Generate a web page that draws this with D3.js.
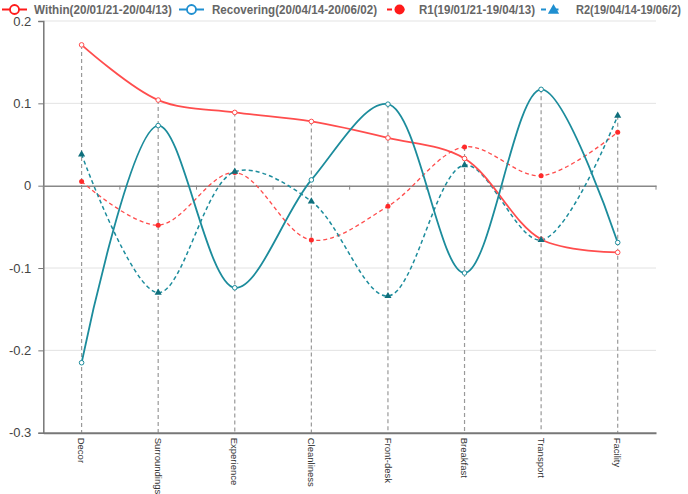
<!DOCTYPE html>
<html><head><meta charset="utf-8">
<script src="https://cdn.jsdelivr.net/npm/d3@7/dist/d3.min.js"></script>
<style>body{margin:0;background:#fff}svg{display:block;font-family:"Liberation Sans",Arial,sans-serif}</style>
</head><body><svg id="c" width="688" height="494"></svg>
<script>
const categories = ["Decor","Surroundings","Experience","Cleanliness","Front-desk","Breakfast","Transport","Facility"];
const within = [0.171, 0.104, 0.089, 0.078, 0.058, 0.033, -0.065, -0.081];
const recovering = [-0.215, 0.073, -0.124, 0.007, 0.099, -0.106, 0.117, -0.069];
const r1 = [0.005, -0.048, 0.016, -0.066, -0.025, 0.047, 0.012, 0.065];
const r2 = [0.038, -0.130, 0.017, -0.019, -0.134, 0.025, -0.066, 0.085];
const seriesNames = ["Within(20/01/21-20/04/13)","Recovering(20/04/14-20/06/02)","R1(19/01/21-19/04/13)","R2(19/04/14-19/06/2)"];
const yTicks = [0.2, 0.1, 0, -0.1, -0.2, -0.3];

const RED = "#ff4d4d", TEAL = "#1c8c9c", LRED = "#ff1a1a", LBLUE = "#1f8fd0";
const svg = d3.select("#c");
const x = d3.scaleBand().domain(categories).range([43.3, 656]);
const y = d3.scaleLinear().domain([-0.3, 0.2]).range([432.7, 21]);
const cx = d => x(d) + x.bandwidth()/2;

// gridlines
svg.append("g").selectAll("line").data(yTicks.filter(t => t !== 0 && t !== -0.3)).join("line")
  .attr("x1", 43.3).attr("x2", 656).attr("y1", d => y(d)).attr("y2", d => y(d))
  .attr("stroke", "#e3e3e3").attr("stroke-width", 1);

// y axis
const yAxis = svg.append("g").attr("transform", "translate(43.3,0)")
  .call(d3.axisLeft(y).tickValues(yTicks).tickSize(5).tickFormat(d => d === 0 ? "0" : d.toFixed(1)));
yAxis.select(".domain").attr("stroke", "#777").attr("stroke-width", 1.5);
yAxis.selectAll(".tick line").attr("stroke", "#777");
yAxis.selectAll("text").attr("font-size", 13).attr("fill", "#444").attr("x", -12).style("font-family", "Liberation Sans, Arial");

// drop lines
const all = [within, recovering, r1, r2];
svg.append("g").selectAll("line").data(categories).join("line")
  .attr("x1", d => cx(d)).attr("x2", d => cx(d))
  .attr("y1", (d,i) => y(d3.max(all, s => s[i]))).attr("y2", y(-0.3))
  .attr("stroke", "#999").attr("stroke-width", 1.2).attr("stroke-dasharray", "4,3");

// zero axis
const zAxis = svg.append("g").attr("transform", `translate(0,${y(0)})`)
  .call(d3.axisBottom(x).tickValues([]).tickSizeOuter(0));
zAxis.select(".domain").attr("stroke", "#888").attr("stroke-width", 1.5);
svg.append("g").selectAll("line").data(d3.range(categories.length + 1)).join("line")
  .attr("x1", i => 43.3 + i * x.step()).attr("x2", i => 43.3 + i * x.step())
  .attr("y1", y(0)).attr("y2", y(0) + 4).attr("stroke", "#888");

// bottom axis
const bAxis = svg.append("g").attr("transform", `translate(0,${y(-0.3)})`)
  .call(d3.axisBottom(x).tickSize(0).tickSizeOuter(0));
bAxis.select(".domain").attr("stroke", "#777").attr("stroke-width", 2);
bAxis.selectAll(".tick text").attr("font-size", 9.5).attr("fill", "#333")
  .attr("transform", "rotate(90)").attr("text-anchor", "start").attr("dy", "0.35em")
  .attr("x", 5).attr("y", 0).style("font-family", "Liberation Sans, Arial");

const line = d3.line().x((d,i) => cx(categories[i])).y(d => y(d)).curve(d3.curveCatmullRom.alpha(0.5));

function drawLine(vals, color, dash, width) {
  svg.append("path").datum(vals).attr("d", line).attr("fill", "none")
    .attr("stroke", color).attr("stroke-width", width).attr("stroke-dasharray", dash);
}
drawLine(r1, RED, "4,3", 1.3);
drawLine(r2, TEAL, "4,3", 1.5);
drawLine(within, RED, null, 1.8);
drawLine(recovering, TEAL, null, 1.8);

// markers
svg.append("g").selectAll("circle").data(within).join("circle")
  .attr("cx", (d,i) => cx(categories[i])).attr("cy", d => y(d)).attr("r", 2.3)
  .attr("fill", "#fff").attr("stroke", RED).attr("stroke-width", 1);
svg.append("g").selectAll("circle").data(recovering).join("circle")
  .attr("cx", (d,i) => cx(categories[i])).attr("cy", d => y(d)).attr("r", 2.3)
  .attr("fill", "#fff").attr("stroke", TEAL).attr("stroke-width", 1);
svg.append("g").selectAll("circle").data(r1).join("circle")
  .attr("cx", (d,i) => cx(categories[i])).attr("cy", d => y(d)).attr("r", 2.5)
  .attr("fill", "#ff2a2a");
const tri = d3.symbol().type(d3.symbolTriangle).size(22);
svg.append("g").selectAll("path").data(r2).join("path")
  .attr("d", tri).attr("transform", (d,i) => `translate(${cx(categories[i])},${y(d)})`)
  .attr("fill", "#0f6f7c");

// legend
const legend = [
  {x: 2, color: LRED, dash: null, marker: "open", tx: 34, tw: 138},
  {x: 179, color: LBLUE, dash: null, marker: "open", tx: 212, tw: 165},
  {x: 387, color: LRED, dash: "5,5", marker: "dot", tx: 419, tw: 116},
  {x: 541, color: LBLUE, dash: "5,5", marker: "tri", tx: 576, tw: 105}
];
const lg = svg.append("g");
legend.forEach((l, i) => {
  const ly = 9.5;
  const w = 25;
  lg.append("line").attr("x1", l.x).attr("x2", l.x + w).attr("y1", ly).attr("y2", ly)
    .attr("stroke", l.color).attr("stroke-width", 2).attr("stroke-dasharray", l.dash ? "5,7.5" : null);
  const mx = l.x + w/2;
  if (l.marker === "open") lg.append("circle").attr("cx", mx).attr("cy", ly).attr("r", 4.5)
    .attr("fill", "#fff").attr("stroke", l.color).attr("stroke-width", 1.8);
  else if (l.marker === "dot") lg.append("circle").attr("cx", mx).attr("cy", ly).attr("r", 5).attr("fill", l.color);
  else lg.append("path").attr("d", d3.symbol().type(d3.symbolTriangle).size(55))
    .attr("transform", `translate(${mx},${ly + 1})`).attr("fill", l.color);
  lg.append("text").attr("x", l.tx).attr("y", ly).attr("dy", "0.35em")
    .attr("font-size", 10).attr("font-weight", "bold").attr("fill", "#666")
    .attr("textLength", l.tw).attr("lengthAdjust", "spacingAndGlyphs")
    .attr("transform", `translate(0,${ly}) scale(1,1.2) translate(0,${-ly})`)
    .text(seriesNames[i]);
});
</script></body></html>
